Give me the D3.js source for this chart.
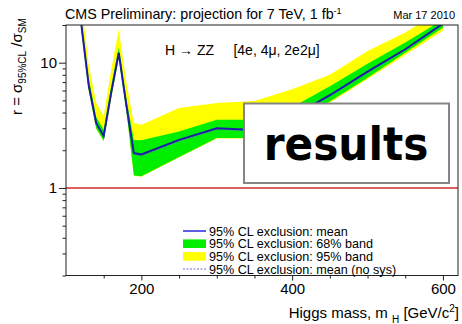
<!DOCTYPE html>
<html>
<head>
<meta charset="utf-8">
<script src="https://cdn.jsdelivr.net/npm/d3@7"></script>
<style>
body { margin: 0; background: #fff; }
text { font-family: "Liberation Sans", Arial, sans-serif; fill: #000; }
</style>
</head>
<body>
<svg width="462" height="324"></svg>
<script>
// Higgs masses (GeV/c^2) and the expected limits
var masses     = [120, 130, 140, 150, 160, 170, 180, 190, 200, 250, 300, 350, 400, 450, 500, 550, 600];
var meanLimit  = [21, 6.7, 3.3, 2.6, 5.8, 12, 4.6, 1.9, 1.85, 2.42, 3.0, 2.9, 3.7, 5.5, 8.5, 12.8, 20.5];
var noSysLimit = [20.5, 6.5, 3.2, 2.55, 5.6, 11.7, 4.4, 1.85, 1.8, 2.36, 2.93, 2.85, 3.6, 5.4, 8.3, 12.6, 20.2];
var band68Lo   = [19, 6.1, 3.0, 2.38, 5.3, 11, 4.2, 1.26, 1.24, 1.77, 2.5, 2.5, 3.2, 4.9, 7.6, 12.0, 19];
var band68Hi   = [23, 7.5, 3.7, 2.92, 6.5, 13.2, 5.2, 2.42, 2.4, 2.82, 3.5, 3.5, 4.4, 6.5, 9.8, 14.5, 22];
var band95Lo   = [18.5, 5.9, 2.95, 2.35, 5.2, 10.8, 4.1, 1.25, 1.23, 1.76, 2.48, 2.48, 3.15, 4.8, 7.4, 11.5, 18];
var band95Hi   = [32, 9.7, 4.8, 3.75, 8.8, 18.5, 7.0, 3.3, 3.2, 4.35, 4.77, 4.95, 6.15, 8.0, 12.4, 17.4, 27];

var xMajorTicks = [200, 400, 600];
var xMinorTicks = [150, 250, 300, 350, 450, 500, 550];
var yMajorTicks = [1, 10];
var yMinorTicks = [0.2, 0.3, 0.4, 0.5, 0.6, 0.7, 0.8, 0.9, 2, 3, 4, 5, 6, 7, 8, 9, 20];
var legendLabels = ["95% CL exclusion: mean", "95% CL exclusion: 68% band",
                    "95% CL exclusion: 95% band", "95% CL exclusion: mean (no sys)"];

var rows = masses.map(function(m, i) {
    return {m: m, mean: meanLimit[i], nosys: noSysLimit[i],
            lo68: band68Lo[i], hi68: band68Hi[i], lo95: band95Lo[i], hi95: band95Hi[i]};
});

var L = 66, R = 458, T = 25, B = 275.5;
var xs = d3.scaleLinear().domain([100, 620]).range([L, R]);
var ys = d3.scaleLog().domain([0.2, 20]).range([B, T]);

var svg = d3.select("svg");

svg.append("clipPath").attr("id", "clip")
    .append("rect").attr("x", L).attr("y", T).attr("width", R - L).attr("height", B - T);

var plot = svg.append("g").attr("clip-path", "url(#clip)");

plot.append("path").datum(rows)
    .attr("fill", "#ffff00")
    .attr("d", d3.area().x(function(d) { return xs(d.m); })
        .y0(function(d) { return ys(d.lo95); }).y1(function(d) { return ys(d.hi95); }));

plot.append("path").datum(rows)
    .attr("fill", "#00ee00")
    .attr("d", d3.area().x(function(d) { return xs(d.m); })
        .y0(function(d) { return ys(d.lo68); }).y1(function(d) { return ys(d.hi68); }));

// SM line at r = 1
plot.append("line")
    .attr("x1", L).attr("x2", R).attr("y1", ys(1)).attr("y2", ys(1))
    .attr("stroke", "#d02828").attr("stroke-width", 1.5);

plot.append("path").datum(rows)
    .attr("fill", "none").attr("stroke", "#7070d0").attr("stroke-width", 1)
    .attr("stroke-dasharray", "2,2")
    .attr("d", d3.line().x(function(d) { return xs(d.m); }).y(function(d) { return ys(d.nosys); }));

plot.append("path").datum(rows)
    .attr("fill", "none").attr("stroke", "#1c1ca8").attr("stroke-width", 2)
    .attr("d", d3.line().x(function(d) { return xs(d.m); }).y(function(d) { return ys(d.mean); }));

// frame
svg.append("rect").attr("x", L).attr("y", T).attr("width", R - L).attr("height", B - T)
    .attr("fill", "none").attr("stroke", "#222").attr("stroke-width", 1);

// axes
function styleAxis(g) {
    g.select(".domain").remove();
    g.selectAll("line").attr("stroke", "#222");
    g.selectAll("text").style("font-family", "'Liberation Sans', Arial, sans-serif").style("font-size", "15px").attr("fill", "#000");
}
svg.append("g").attr("transform", "translate(0," + B + ")")
    .call(d3.axisBottom(xs).tickValues(xMajorTicks).tickSize(5).tickPadding(3).tickFormat(d3.format("d")))
    .call(styleAxis);
svg.append("g").attr("transform", "translate(0," + B + ")")
    .call(d3.axisBottom(xs).tickValues(xMinorTicks).tickSize(3).tickFormat(""))
    .call(styleAxis);
svg.append("g").attr("transform", "translate(" + L + ",0)")
    .call(d3.axisLeft(ys).tickValues(yMajorTicks).tickSize(7).tickPadding(2).tickFormat(d3.format("d")))
    .call(styleAxis);
svg.append("g").attr("transform", "translate(" + L + ",0)")
    .call(d3.axisLeft(ys).tickValues(yMinorTicks).tickSize(3.5).tickFormat(""))
    .call(styleAxis);

// titles
var title = svg.append("text").attr("x", 65).attr("y", 19).style("font-size", "14.3px");
title.append("tspan").text("CMS Preliminary: projection for 7 TeV, 1 fb");
title.append("tspan").attr("dy", -5).style("font-size", "9px").text("-1");

svg.append("text").attr("x", 455).attr("y", 19).attr("text-anchor", "end")
    .style("font-size", "11px").text("Mar 17 2010");

svg.append("text").attr("x", 165).attr("y", 55).style("font-size", "14px")
    .text("H \u2192 ZZ     [4e, 4\u03bc, 2e2\u03bc]").attr("xml:space", "preserve")
    .style("white-space", "pre");

var xt = svg.append("text").attr("x", 459).attr("y", 318).attr("text-anchor", "end")
    .style("font-size", "15px");
xt.append("tspan").text("Higgs mass, m ");
xt.append("tspan").attr("dy", 5).style("font-size", "10px").text("H");
xt.append("tspan").attr("dy", -5).text(" [GeV/c");
xt.append("tspan").attr("dy", -6).style("font-size", "10px").text("2");
xt.append("tspan").attr("dy", 6).text("]");

var yt = svg.append("text").attr("transform", "translate(22,115) rotate(-90)")
    .style("font-size", "15px");
yt.append("tspan").text("r = \u03c3");
yt.append("tspan").attr("dy", 4).style("font-size", "10px").text("95%CL");
yt.append("tspan").attr("dy", -4).text(" /\u03c3");
yt.append("tspan").attr("dy", 4).style("font-size", "10px").text("SM");

// legend
var legend = svg.append("g");
var rowY = [231, 243.7, 256.4, 269];
legendLabels.forEach(function(lab, i) {
    var yy = rowY[i];
    if (i === 0) {
        legend.append("line").attr("x1", 183).attr("x2", 206).attr("y1", yy).attr("y2", yy)
            .attr("stroke", "#2828d8").attr("stroke-width", 1.5);
    } else if (i === 1 || i === 2) {
        legend.append("rect").attr("x", 183).attr("y", yy - 4.3).attr("width", 23).attr("height", 8.6)
            .attr("fill", i === 1 ? "#00ee00" : "#ffff00");
    } else {
        legend.append("line").attr("x1", 183).attr("x2", 206).attr("y1", yy).attr("y2", yy)
            .attr("stroke", "#7070d0").attr("stroke-width", 1).attr("stroke-dasharray", "2,1.5");
    }
    legend.append("text").attr("x", 209).attr("y", yy + 4.5).style("font-size", "12.6px").text(lab);
});

// "results" overlay box
svg.append("rect").attr("x", 244).attr("y", 103.5).attr("width", 205).attr("height", 79.5)
    .attr("fill", "#fff").attr("stroke", "#858585").attr("stroke-width", 2);
svg.append("text").attr("x", 346).attr("y", 160).attr("text-anchor", "middle")
    .style("font-family", "'DejaVu Sans', Verdana, sans-serif").style("font-weight", "bold")
    .style("font-stretch", "condensed").style("font-size", "47px").text("results");
</script>
</body>
</html>
